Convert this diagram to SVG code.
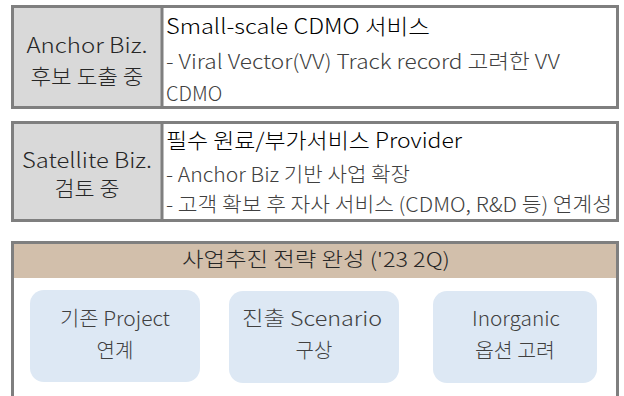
<svg xmlns="http://www.w3.org/2000/svg" width="624" height="396" viewBox="0 0 624 396">
<style>
text{font-family:"Noto Sans CJK KR","Noto Sans",sans-serif;font-weight:300;}
.frame{fill:#ffffff;stroke:#7f7f7f;stroke-width:3;}
.lab{fill:#d9d9d9;stroke:#7f7f7f;stroke-width:3;}
.lt{font-size:21px;fill:#262626;text-anchor:middle;}
.h{font-size:21px;fill:#000000;}
.b{font-size:20px;fill:#404040;}
.pill{fill:#dde8f4;}
.pt{font-size:20px;fill:#404040;text-anchor:middle;}
</style>
<g id="anchor">
<rect class="frame" x="12.5" y="6.5" width="605" height="101"/>
<rect class="lab" x="12.5" y="6.5" width="149.5" height="101"/>
<text class="lt" x="87" y="53" textLength="121" lengthAdjust="spacingAndGlyphs">Anchor Biz.</text>
<text class="lt" x="87" y="84" textLength="113" lengthAdjust="spacingAndGlyphs">후보 도출 중</text>
<text class="h" x="166" y="34" textLength="264" lengthAdjust="spacingAndGlyphs">Small-scale CDMO 서비스</text>
<text class="b" x="166" y="69" textLength="394" lengthAdjust="spacingAndGlyphs">- Viral Vector(VV) Track record 고려한 VV</text>
<text class="b" x="166" y="101">CDMO</text>
</g>
<g id="satellite">
<rect class="frame" x="12.5" y="122.5" width="605" height="98"/>
<rect class="lab" x="12.5" y="122.5" width="149.5" height="98"/>
<text class="lt" x="87" y="168" textLength="130" lengthAdjust="spacingAndGlyphs">Satellite Biz.</text>
<text class="lt" x="87" y="196" textLength="65" lengthAdjust="spacingAndGlyphs">검토 중</text>
<text class="h" x="166" y="148" textLength="296" lengthAdjust="spacingAndGlyphs">필수 원료/부가서비스 Provider</text>
<text class="b" x="166" y="182" textLength="244" lengthAdjust="spacingAndGlyphs">- Anchor Biz 기반 사업 확장</text>
<text class="b" x="166" y="212" textLength="446" lengthAdjust="spacingAndGlyphs">- 고객 확보 후 자사 서비스 (CDMO, R&amp;D 등) 연계성</text>
</g>
<g id="strategy">
<path d="M12.5 400 V242.5 H617.5 V400" fill="#ffffff" stroke="#7f7f7f" stroke-width="3"/>
<rect x="14" y="244" width="602" height="34" fill="#d2bfab"/>
<text x="316" y="267" font-size="20" fill="#262626" text-anchor="middle" textLength="268" lengthAdjust="spacingAndGlyphs">사업추진 전략 완성 ('23 2Q)</text>
</g>
<g id="project">
<rect class="pill" x="30" y="290" width="170" height="92" rx="14"/>
<text class="pt" x="115" y="326" textLength="110" lengthAdjust="spacingAndGlyphs">기존 Project</text>
<text class="pt" x="115" y="358">연계</text>
</g>
<g id="scenario">
<rect class="pill" x="229" y="291" width="170" height="92" rx="14"/>
<text class="pt" x="312" y="326" textLength="140" lengthAdjust="spacingAndGlyphs">진출 Scenario</text>
<text class="pt" x="314" y="358">구상</text>
</g>
<g id="inorganic">
<rect class="pill" x="433" y="291" width="164" height="92" rx="14"/>
<text class="pt" x="516" y="326" textLength="88" lengthAdjust="spacingAndGlyphs">Inorganic</text>
<text class="pt" x="515" y="358" textLength="80" lengthAdjust="spacingAndGlyphs">옵션 고려</text>
</g>
<g id="connectors"></g>
</svg>
